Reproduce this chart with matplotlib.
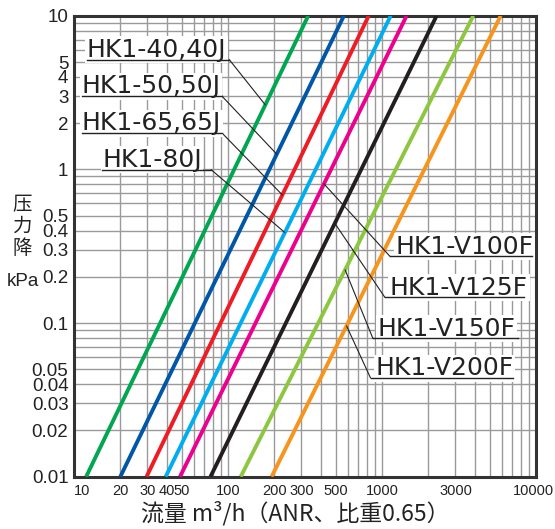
import numpy as np
import matplotlib.pyplot as plt
from matplotlib.ticker import LogLocator, NullFormatter

# model curves: flow (m3/h) where each line meets 0.01 kPa and 10 kPa
models = ['HK1-40,40J', 'HK1-50,50J', 'HK1-65,65J', 'HK1-80J',
          'HK1-V100F', 'HK1-V125F', 'HK1-V150F', 'HK1-V200F']
colors = ['#00a650', '#0057a8', '#ee1c25', '#00aeef',
          '#ec008c', '#231f20', '#8dc63f', '#f7941d']
q_low = [12, 20, 29.6, 39.4, 48.8, 77, 121, 192]
q_high = [332, 566, 820, 1140, 1446, 2264, 3917, 5902]
p_ends = [0.01, 10]
# pressure where each label's leader touches its line
leader_p = [2.63, 1.256, 0.682, 0.388, 0.805, 0.446, 0.222, 0.0958]

xticks = [10, 20, 30, 40, 50, 100, 200, 300, 500, 1000, 3000, 10000]
xtick_labels = ['10', '20', '30', '40', '50', '100', '200', '300', '500',
                '1000', '3000', '10000']
yticks = [10, 5, 4, 3, 2, 1, 0.5, 0.4, 0.3, 0.2, 0.1, 0.05, 0.04, 0.03,
          0.02, 0.01]
ytick_labels = ['10', '5', '4', '3', '2', '1', '0.5', '0.4', '0.3', '0.2',
                '0.1', '0.05', '0.04', '0.03', '0.02', '0.01']

# label layout (axes fraction): underline start, end, height; side of leader
lab_x0 = [0.028, 0.017, 0.017, 0.061, 0.684, 0.673, 0.647, 0.642]
lab_x1 = [0.336, 0.320, 0.320, 0.297, 0.991, 0.974, 0.961, 0.950]
lab_y = [0.905, 0.826, 0.746, 0.666, 0.478, 0.389, 0.300, 0.214]
lab_right = [False, False, False, False, True, True, True, True]
# small nudges (points) for the x tick labels at the corners
xlab_dx = {10: 6, 10000: -1.5}

fig = plt.figure(figsize=(5.55, 5.29), dpi=100)
ax = fig.add_axes([0.1333, 0.0989, 0.8324, 0.8713])
ax.set_xscale('log')
ax.set_yscale('log')
ax.set_xlim(10, 10000)
ax.set_ylim(0.01, 10)

for q0, q1, c in zip(q_low, q_high, colors):
    ax.plot([q0, q1], p_ends, color=c, lw=2.8, solid_capstyle='butt', zorder=3)

# grid on every 1..9 step
ax.xaxis.set_minor_locator(LogLocator(base=10, subs=np.arange(2, 10)))
ax.yaxis.set_minor_locator(LogLocator(base=10, subs=np.arange(2, 10)))
ax.xaxis.set_minor_formatter(NullFormatter())
ax.yaxis.set_minor_formatter(NullFormatter())
ax.grid(True, which='both', color='#9a9a9a', lw=1.0)
ax.set_axisbelow(True)

ax.set_xticks(xticks)
ax.set_xticklabels([])
for v, lab in zip(xticks, xtick_labels):
    ax.annotate(lab, xy=(v, 0), xycoords=('data', 'axes fraction'),
                xytext=(xlab_dx.get(v, 0), -5), textcoords='offset points',
                ha='center', va='top', fontsize=10.5, color='#222222',
                family='Liberation Sans')
ax.set_yticks(yticks)
ax.set_yticklabels(ytick_labels, family='Liberation Sans', fontsize=13.5,
                   color='#222222')
ax.tick_params(which='both', length=0)
ax.tick_params(axis='y', pad=4)

for s in ax.spines.values():
    s.set_linewidth(2.2)
    s.set_color('#333333')

# model labels with underline and leader
for i, name in enumerate(models):
    x0, x1, y = lab_x0[i], lab_x1[i], lab_y[i]
    tx = x0 + (0.011 if lab_right[i] else 0.0)
    ax.text(tx, y + 0.006, name, transform=ax.transAxes, ha='left',
            va='baseline', fontsize=18, color='#222222', zorder=5,
            family='DejaVu Sans',
            bbox=dict(fc='white', ec='none', pad=1.0))
    ax.plot([x0, x1], [y, y], transform=ax.transAxes, color='#222222',
            lw=1.0, zorder=5, clip_on=False)
    p = leader_p[i]
    frac = (np.log10(p) - np.log10(p_ends[0])) / (np.log10(p_ends[1]) - np.log10(p_ends[0]))
    q = q_low[i] * (q_high[i] / q_low[i]) ** frac
    start = (x0, y) if lab_right[i] else (x1, y)
    ax.annotate('', xy=(q, p), xycoords='data', xytext=start,
                textcoords='axes fraction',
                arrowprops=dict(arrowstyle='-', lw=0.8, color='#222222',
                                shrinkA=0, shrinkB=0), zorder=4)

fig.text(295.5 / 555, 1 - 513 / 529, '流量 m³/h（ANR、比重0.65）',
         ha='center', va='center', fontsize=16.5, color='#222222',
         family=['Noto Sans CJK JP', 'DejaVu Sans'])
for i, ch in enumerate('压力降'):
    fig.text(22.5 / 555, 1 - (205 + 21.5 * i) / 529, ch, ha='center',
             va='center', fontsize=14, color='#222222',
             family=['Noto Sans CJK SC', 'DejaVu Sans'])
fig.text(22.5 / 555, 1 - 281 / 529, 'kPa', ha='center', va='center',
         fontsize=13.5, color='#222222', family='Liberation Sans')

fig.savefig('out.png', dpi=100)
